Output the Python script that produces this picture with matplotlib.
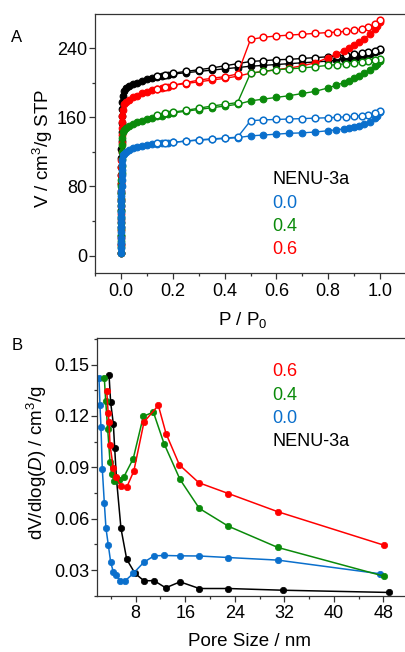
import matplotlib
matplotlib.use('Agg')
import matplotlib.pyplot as plt
from matplotlib.ticker import MultipleLocator

plt.rcParams['font.family'] = ['Liberation Sans', 'DejaVu Sans']
plt.rcParams['mathtext.fontset'] = 'custom'
plt.rcParams['mathtext.rm'] = 'Liberation Sans'
plt.rcParams['mathtext.it'] = 'Liberation Sans:italic'

# ---- Panel A: N2 isotherms ----
p_low = [0.00002, 0.00005, 0.0001, 0.00015, 0.0002, 0.0003, 0.0004, 0.0005, 0.0006, 0.0008, 0.001,
         0.0013, 0.0016, 0.002, 0.0025, 0.003, 0.0036, 0.0043, 0.005, 0.006]
p_ads = [0.01, 0.02, 0.03, 0.045, 0.06, 0.08, 0.1, 0.12, 0.14, 0.16, 0.18, 0.2, 0.25, 0.3, 0.35, 0.4, 0.45,
         0.5, 0.55, 0.6, 0.65, 0.7, 0.75, 0.8, 0.83, 0.86, 0.88, 0.9, 0.92, 0.94, 0.96, 0.98, 0.99, 1.0]
p_des = [1.0, 0.98, 0.955, 0.93, 0.9, 0.87, 0.835, 0.8, 0.75, 0.7, 0.65, 0.6, 0.55, 0.5, 0.45, 0.4, 0.35,
         0.3, 0.25, 0.2, 0.17, 0.14]

low_nenu = [3, 13, 23, 33, 43, 53, 63, 73, 83, 93, 103, 113, 123, 133, 143, 153, 162, 170, 178, 185]
ads_nenu = [190, 194, 196, 198, 200, 202, 204, 205.5, 207, 208, 209, 210, 211.5, 213, 214.5, 216, 217.5,
            219, 220, 221, 222, 223, 224, 225, 226, 227, 228, 229, 230, 231.5, 233, 235, 236.5, 238]
des_nenu = [239, 237, 235.5, 234, 233, 232, 231, 230, 229, 228, 227, 226.5, 225.5, 224.5, 222, 219.5, 217,
            215, 213, 211, 209, 207.5]

low_06 = [3, 12, 21, 30, 39, 48, 57, 66, 75, 84, 93, 102, 111, 120, 130, 140, 148, 155, 162, 168]
ads_06 = [175, 178, 180, 183, 185, 187.5, 189.5, 191, 193, 194, 195.5, 197, 199, 201, 203, 205, 207.5,
          211, 213, 215, 217, 219.5, 223, 229, 233, 237, 240, 243, 247, 251, 256, 262, 266, 270]
des_06 = [273, 268, 264, 262, 260.5, 259.5, 258.5, 258, 257, 256, 255, 254, 252.5, 250, 210, 207, 205,
          203, 200, 197, 195, 193]

low_04 = [3, 10, 17, 24, 31, 38, 45, 52, 59, 66, 73, 80, 88, 96, 104, 112, 120, 128, 136, 143]
ads_04 = [145, 148, 150, 152, 154, 156, 158, 159.5, 161, 162, 163.5, 165, 167, 169, 171, 173, 175,
          179, 181, 183, 185, 187.5, 190, 194, 197, 200, 202, 205, 208, 211, 215, 219, 222, 225]
des_04 = [227, 226, 225, 224, 223, 222, 221, 220, 218.5, 217, 216, 215, 213, 211, 177, 175, 173,
          170.5, 168, 166, 164.5, 163]

low_00 = [3, 9, 15, 21, 27, 33, 39, 45, 51, 57, 63, 69, 75, 81, 87, 93, 99, 105, 111, 116]
ads_00 = [118, 120, 122, 124, 125.5, 127, 128, 129, 129.5, 130, 130.5, 131, 132.5, 133.5, 134.5, 135.5, 136.5,
          138.5, 139.5, 140.5, 141.5, 142, 143, 144.5, 145.5, 146.5, 147.5, 148.5, 150, 152, 155, 159, 162, 166]
des_00 = [167, 165, 163, 162, 161, 160.5, 160, 159.5, 159, 158.5, 158, 157.5, 157, 156, 137, 136, 135,
          134, 132.5, 131, 130.5, 130]

# ---- Panel B: pore size distribution ----
d_nenu = [3.69, 3.95, 4.38, 4.6, 4.9, 5.62, 6.55, 7.9, 9.34, 10.96, 12.84, 15.16, 18.27, 22.96, 31.76, 48.85]
v_nenu = [0.1442, 0.128, 0.1156, 0.1015, 0.083, 0.0543, 0.0362, 0.028, 0.0237, 0.0238, 0.0196, 0.0231,
          0.0192, 0.0192, 0.0182, 0.0169]
d_00 = [2.07, 2.23, 2.39, 2.6, 2.93, 3.2, 3.58, 3.96, 4.38, 4.82, 5.5, 6.3, 7.6, 9.3, 10.96, 12.62, 15.16,
        18.27, 22.96, 30.94, 47.5]
v_00 = [0.1422, 0.1262, 0.1136, 0.0893, 0.0692, 0.0543, 0.0445, 0.0345, 0.029, 0.027, 0.0238, 0.0237, 0.028,
        0.0345, 0.0383, 0.0385, 0.0383, 0.0382, 0.0373, 0.0358, 0.0278]
d_04 = [2.93, 3.15, 3.47, 3.85, 4.12, 4.5, 5.35, 6.11, 7.6, 9.23, 10.85, 12.57, 15.16, 18.27, 22.96, 30.94, 48.1]
v_04 = [0.1422, 0.129, 0.1126, 0.0932, 0.0864, 0.082, 0.0828, 0.0846, 0.0951, 0.1198, 0.1223, 0.1039, 0.0829,
        0.066, 0.0556, 0.0432, 0.0264]
d_06 = [3.32, 3.55, 3.69, 3.85, 4.38, 4.82, 5.62, 6.55, 7.7, 9.34, 11.65, 12.9, 15.06, 18.2, 22.96, 31.0, 48.1]
v_06 = [0.1346, 0.122, 0.1165, 0.1029, 0.0899, 0.0844, 0.079, 0.0784, 0.0879, 0.1165, 0.1262, 0.1097, 0.0914,
        0.081, 0.0747, 0.064, 0.0445]

labels = ['NENU-3a', '0.0', '0.4', '0.6']
c_black = '#000000'
c_blue = '#0a6fcc'
c_green = '#0a8a0a'
c_red = '#ff0000'
spine_col = '#333333'

W, H = 405, 652
fig = plt.figure(figsize=(W / 100, H / 100), dpi=100)


def style_axes(ax):
    for s in ['left', 'bottom', 'top', 'right']:
        ax.spines[s].set_color(spine_col)
        ax.spines[s].set_linewidth(0.9)
    ax.tick_params(which='major', direction='out', length=4, width=0.9, color=spine_col,
                   labelsize=13, pad=1.5, top=False, right=False)
    ax.tick_params(which='minor', direction='out', length=2, width=0.9, color=spine_col,
                   top=False, right=False)


# panel A
axA = fig.add_axes([95 / W, 1 - 273 / H, 320 / W, 259 / H])
series_a = [
    (low_nenu, ads_nenu, des_nenu, c_black),
    (low_06, ads_06, des_06, c_red),
    (low_04, ads_04, des_04, c_green),
    (low_00, ads_00, des_00, c_blue),
]
for low, ads, des, col in series_a:
    axA.plot(p_low + p_ads, low + ads, '-', color=col, lw=1.0, marker='o', ms=4.8,
             mfc=col, mec=col, mew=0.8)
    axA.plot(p_des, des, '-', color=col, lw=1.0, marker='o', ms=4.8,
             mfc='white', mec=col, mew=1.1)
axA.set_xlim(-0.1004, 1.135)
axA.set_ylim(-20, 279.4)
axA.xaxis.set_major_locator(MultipleLocator(0.2))
axA.xaxis.set_minor_locator(MultipleLocator(0.1))
axA.yaxis.set_major_locator(MultipleLocator(80))
axA.yaxis.set_minor_locator(MultipleLocator(40))
axA.xaxis.set_major_formatter(plt.FuncFormatter(lambda v, p: f'{v:.1f}'))
style_axes(axA)
axA.tick_params(axis='x', pad=3)

# panel B
axB = fig.add_axes([96.7 / W, 1 - 595.7 / H, (415 - 96.7) / W, (595.7 - 338.3) / H])
series_b = [
    (d_nenu, v_nenu, c_black),
    (d_00, v_00, c_blue),
    (d_04, v_04, c_green),
    (d_06, v_06, c_red),
]
for d, v, col in series_b:
    axB.plot(d, v, '-', color=col, lw=1.1, marker='o', ms=4.6, mfc=col, mec=col, mew=0.5)
axB.set_xlim(1.7, 53.1)
axB.set_ylim(0.015, 0.1654)
axB.xaxis.set_major_locator(MultipleLocator(8))
axB.xaxis.set_minor_locator(MultipleLocator(4))
axB.yaxis.set_major_locator(MultipleLocator(0.03))
axB.yaxis.set_minor_locator(MultipleLocator(0.015))
axB.yaxis.set_major_formatter(plt.FuncFormatter(lambda v, p: f'{v:.2f}'))
style_axes(axB)
axB.tick_params(axis='x', pad=3)


def ftext(x, y, s, **kw):
    fig.text(x / W, 1 - y / H, s, **kw)


# axis labels
ftext(243, 320, r'P / P$_0$', fontsize=13.5, ha='center', va='center')
ftext(43, 148, r'V / cm$^3$/g STP', fontsize=13.5, ha='center', va='center', rotation=90)
ftext(250, 641, 'Pore Size / nm', fontsize=13.5, ha='center', va='center')
ftext(37, 463, r'dV/dlog($\it{D}$) / cm$^3$/g', fontsize=13.5, ha='center', va='center', rotation=90)

# panel letters
ftext(17, 38, 'A', fontsize=12, ha='center', va='center')
ftext(17, 345, 'B', fontsize=12, ha='center', va='center')

# in-plot legends (text only)
cols_a = [c_black, c_blue, c_green, c_red]
ys_a = [179, 203, 226.5, 250]
for lab, col, yy in zip(labels, cols_a, ys_a):
    ftext(272, yy, lab, fontsize=13, color=col, ha='left', va='center')

labels_b = [labels[3], labels[2], labels[1], labels[0]]
cols_b = [c_red, c_green, c_blue, c_black]
ys_b = [372, 395, 418.5, 441.5]
for lab, col, yy in zip(labels_b, cols_b, ys_b):
    ftext(272, yy, lab, fontsize=13, color=col, ha='left', va='center')

fig.savefig('out.png', dpi=100)
